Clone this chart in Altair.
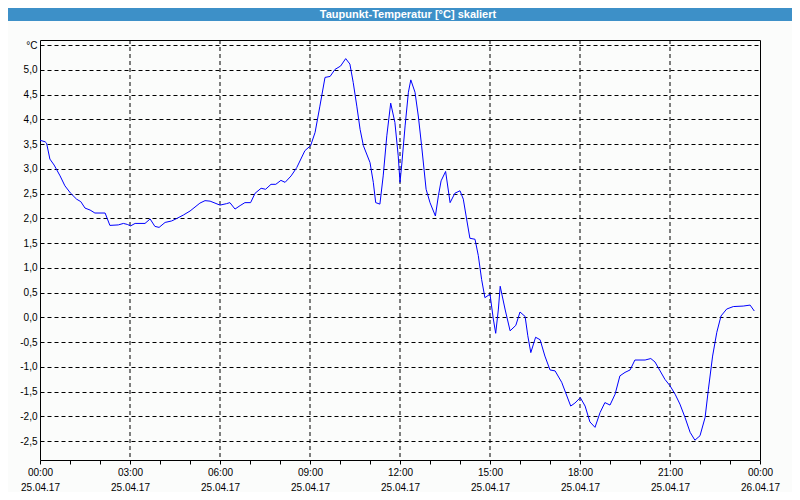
import json
import altair as alt
import pandas as pd

# ---- data ----
hours = [0.0, 0.17, 0.22, 0.33, 0.47, 0.67, 0.83, 1.02, 1.22, 1.36, 1.5, 1.67, 1.83, 2.17,
         2.33, 2.61, 2.78, 2.91, 3.02, 3.17, 3.5, 3.67, 3.83, 3.97, 4.17, 4.39, 4.56, 4.78,
         5.0, 5.33, 5.5, 5.67, 6.0, 6.22, 6.33, 6.5, 6.67, 6.83, 7.02, 7.17, 7.37, 7.52,
         7.7, 7.86, 8.03, 8.17, 8.37, 8.56, 8.83, 9.02, 9.17, 9.33, 9.5, 9.67, 9.83, 10.02,
         10.19, 10.33, 10.44, 10.56, 10.67, 10.78, 11.0, 11.11, 11.19, 11.33, 11.44, 11.56,
         11.69, 11.83, 11.94, 12.0, 12.06, 12.17, 12.28, 12.36, 12.5, 12.61, 12.72, 12.87,
         13.0, 13.18, 13.28, 13.37, 13.52, 13.67, 13.83, 14.0, 14.11, 14.22, 14.33, 14.5,
         14.61, 14.72, 14.83, 15.0, 15.11, 15.19, 15.28, 15.34, 15.5, 15.67, 15.86, 16.0,
         16.17, 16.26, 16.36, 16.52, 16.67, 16.83, 17.0, 17.17, 17.39, 17.69, 17.83, 18.01,
         18.17, 18.33, 18.5, 18.67, 18.83, 19.0, 19.17, 19.33, 19.5, 19.67, 19.83, 20.17,
         20.36, 20.5, 20.67, 20.83, 21.0, 21.17, 21.33, 21.5, 21.67, 21.83, 22.0, 22.17,
         22.28, 22.42, 22.56, 22.7, 22.89, 23.11, 23.44, 23.67, 23.81]
values = [3.58, 3.55, 3.52, 3.2, 3.08, 2.86, 2.66, 2.51, 2.39, 2.34, 2.21, 2.17, 2.11, 2.11,
          1.86, 1.87, 1.9, 1.88, 1.85, 1.9, 1.9, 1.99, 1.84, 1.82, 1.92, 1.95, 2.0, 2.07,
          2.15, 2.31, 2.36, 2.35, 2.27, 2.3, 2.32, 2.19, 2.26, 2.32, 2.32, 2.51, 2.61, 2.59,
          2.69, 2.69, 2.77, 2.73, 2.86, 3.03, 3.37, 3.47, 3.74, 4.27, 4.85, 4.87, 5.01, 5.08,
          5.23, 5.12, 4.75, 4.27, 3.8, 3.47, 3.13, 2.73, 2.32, 2.29, 2.86, 3.67,
          4.33, 3.94, 3.27, 2.73, 3.1, 3.87, 4.55, 4.8, 4.55, 4.07, 3.47, 2.59,
          2.32, 2.05, 2.46, 2.76, 2.95, 2.32, 2.51, 2.56, 2.39, 1.99, 1.6, 1.58,
          1.25, 0.77, 0.4, 0.47, -0.03, -0.32, 0.17, 0.63, 0.17, -0.27, -0.16, 0.11,
          0.02, -0.37, -0.71, -0.4, -0.45, -0.78, -1.06, -1.08, -1.31, -1.79, -1.73, -1.62,
          -1.79, -2.11, -2.22, -1.92, -1.72, -1.77, -1.55, -1.18, -1.11, -1.06, -0.86, -0.86,
          -0.83, -0.9, -1.08, -1.25, -1.38, -1.55, -1.75, -2.02, -2.32, -2.48, -2.39, -2.02,
          -1.45, -0.78, -0.3, 0.03, 0.17, 0.22, 0.23, 0.25, 0.13]

grid_hours = [3, 6, 9, 12, 15, 18, 21]
x_tick_hours = list(range(0, 25))
label_times = ["00:00", "03:00", "06:00", "09:00", "12:00", "15:00", "18:00", "21:00", "00:00"]
label_dates = ["25.04.17", "25.04.17", "25.04.17", "25.04.17", "25.04.17",
               "25.04.17", "25.04.17", "25.04.17", "26.04.17"]
y_ticks = [-2.5, -2.0, -1.5, -1.0, -0.5, 0.0, 0.5, 1.0, 1.5, 2.0, 2.5,
           3.0, 3.5, 4.0, 4.5, 5.0, 5.5]
y_unit = "°C"
title_text = "Taupunkt-Temperatur [°C] skaliert"

df = pd.DataFrame({"h": hours, "v": values})
grid_df = pd.DataFrame({"h": grid_hours})
title_df = pd.DataFrame({"t": [title_text]})

times_js = json.dumps(label_times)
dates_js = json.dumps(label_dates)
x_label_expr = (f"datum.value % 3 == 0 ? [{times_js}[datum.value / 3], "
                f"{dates_js}[datum.value / 3]] : ''")
unit_js = json.dumps(y_unit, ensure_ascii=False)
y_label_expr = (f"datum.value > 5.4 ? {unit_js} : (datum.value < 0 ? '-' : '') + "
                "replace(format(abs(datum.value), '.1f'), '.', ',')")

x_scale = alt.Scale(domain=[0, 24], nice=False, zero=False)
y_scale = alt.Scale(domain=[-2.88, 5.606], nice=False, zero=False)

x_axis = alt.Axis(values=x_tick_hours, labelExpr=x_label_expr, grid=False, domain=False,
                  ticks=True, tickSize=4, tickColor="#000", labelPadding=3,
                  labelLineHeight=15, labelAngle=0, labelBaseline="top", title=None,
                  labelOverlap=False, labelFlush=False)
y_axis = alt.Axis(values=y_ticks, labelExpr=y_label_expr, grid=True, gridDash=[4, 3],
                  gridColor="#000", gridOpacity=1, gridWidth=1, domain=False, ticks=False,
                  labelPadding=3, title=None, labelOverlap=False, labelFlush=False)

rules = alt.Chart(grid_df).mark_rule(color="#000", strokeDash=[4, 3], strokeWidth=1).encode(
    x=alt.X("h:Q", scale=x_scale, axis=x_axis)
)

line = alt.Chart(df).mark_line(color="#0000ff", strokeWidth=1).encode(
    x=alt.X("h:Q", scale=x_scale, axis=x_axis),
    y=alt.Y("v:Q", scale=y_scale, axis=y_axis),
)

bar = alt.Chart(title_df).mark_rect(color="#3d90c8").encode(
    x=alt.value(-32), x2=alt.value(752), y=alt.value(-32), y2=alt.value(-19)
)
title = alt.Chart(title_df).mark_text(
    color="white", font="Liberation Sans", fontSize=11, fontWeight="bold",
    align="center", baseline="middle"
).encode(x=alt.value(368), y=alt.value(-25), text="t:N")

chart = alt.layer(rules, line, bar, title).properties(
    width=720, height=420,
    autosize=alt.AutoSizeParams(type="none"),
    padding={"left": 32, "top": 32, "right": 32, "bottom": 32},
    background="#fbfcfb",
).configure_view(stroke="#000", strokeWidth=1).configure_axis(
    labelFont="Liberation Sans", labelFontSize=10, labelColor="#000"
)

chart.save("out.html", embed_options={"renderer": "svg", "actions": False})
